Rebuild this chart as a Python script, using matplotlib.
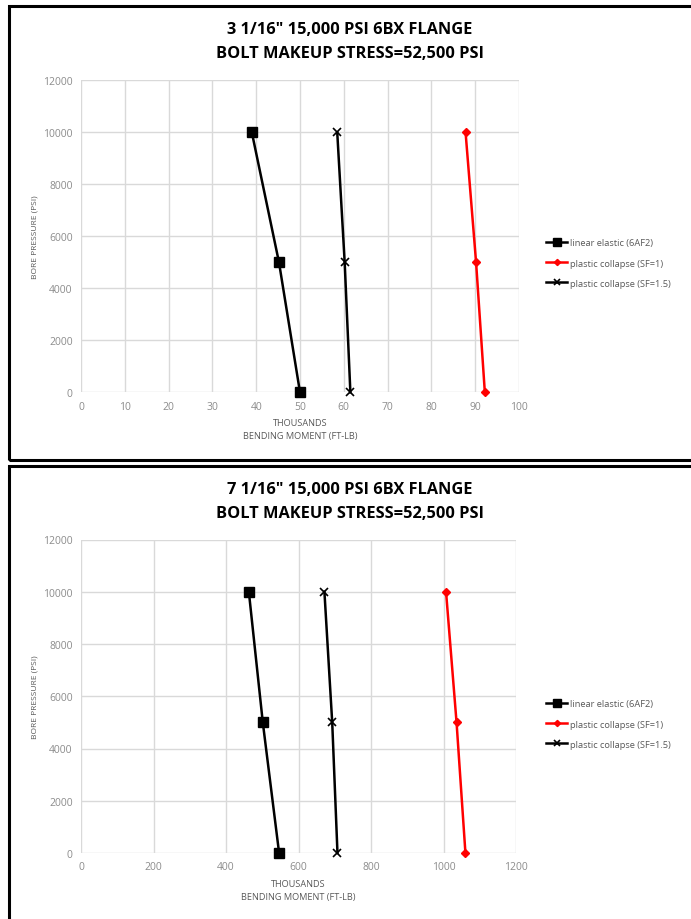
import matplotlib
matplotlib.use("Agg")
import matplotlib.pyplot as plt
from matplotlib.patches import Rectangle

# Bore pressure levels (psi)
pressure = [10000, 5000, 0]

# 3 1/16" flange: bending moment capacity (thousands ft-lb)
small_linear_elastic = [39.0, 45.2, 50.0]
small_plastic_sf1 = [87.8, 90.2, 92.2]
small_plastic_sf15 = [58.5, 60.2, 61.5]

# 7 1/16" flange: bending moment capacity (thousands ft-lb)
large_linear_elastic = [463, 501.5, 546.5]
large_plastic_sf1 = [1007, 1036, 1060.5]
large_plastic_sf15 = [671.5, 693, 707.5]

series_labels = ["linear elastic (6AF2)", "plastic collapse (SF=1)",
                 "plastic collapse (SF=1.5)"]
titles = ['3 1/16" 15,000 PSI 6BX FLANGE\nBOLT MAKEUP STRESS=52,500 PSI',
          '7 1/16" 15,000 PSI 6BX FLANGE\nBOLT MAKEUP STRESS=52,500 PSI']
y_ticks = [0, 2000, 4000, 6000, 8000, 10000, 12000]
x_ticks_small = [0, 10, 20, 30, 40, 50, 60, 70, 80, 90, 100]
x_ticks_large = [0, 200, 400, 600, 800, 1000, 1200]

W, H = 691, 920
fig = plt.figure(figsize=(W / 100, H / 100), dpi=100)
fig.patch.set_facecolor("white")

TICK_C = "#8c8c8c"
LABEL_C = "#595959"
GRID_C = "#d9d9d9"
FONT = ["Open Sans", "DejaVu Sans"]


def fx(px):
    return px / W


def fy(py):
    return 1 - py / H


def panel(box_top, box_bottom, ax_box, title_y, xlim, xticks, data, legend_y,
          xlabel_y):
    # panel frame
    fig.patches.append(Rectangle((fx(8.5), fy(box_bottom)), fx(700), fy(box_top) - fy(box_bottom),
                                 transform=fig.transFigure, fill=False,
                                 edgecolor="black", linewidth=2.2, zorder=0))
    fig.text(fx(350), fy(title_y), titles[data[3]], ha="center", va="center",
             fontsize=11.8, fontweight="bold", family=FONT, linespacing=1.7)

    l, t, r, b = ax_box
    ax = fig.add_axes([fx(l), fy(b), fx(r - l), fy(t) - fy(b)])
    le, s1, s15 = data[0], data[1], data[2]
    h1, = ax.plot(le, pressure, color="black", lw=1.8, marker="s", ms=7,
                  clip_on=False, zorder=3)
    h2, = ax.plot(s1, pressure, color="#ff0000", lw=1.8, marker="D", ms=4.2,
                  clip_on=False, zorder=3)
    h3, = ax.plot(s15, pressure, color="black", lw=1.8, marker="x", ms=5.5,
                  mew=1.2, clip_on=False, zorder=3)
    ax.set_xlim(*xlim)
    ax.set_ylim(0, 12000)
    ax.set_xticks(xticks)
    ax.set_yticks(y_ticks)
    ax.grid(True, color=GRID_C, lw=1.0)
    ax.set_axisbelow(True)
    for sp in ax.spines.values():
        sp.set_visible(False)
    ax.tick_params(length=0, labelsize=7.5, labelcolor=TICK_C, pad=6)
    for lab in ax.get_xticklabels() + ax.get_yticklabels():
        lab.set_family(FONT)
    ax.set_ylabel("BORE PRESSURE (PSI)", fontsize=6, color=LABEL_C,
                  family=FONT, labelpad=3)
    fig.text(fx((l + r) / 2), fy(xlabel_y), "THOUSANDS", ha="center",
             va="center", fontsize=6.6, color=LABEL_C, family=FONT)
    fig.text(fx((l + r) / 2), fy(xlabel_y + 13), "BENDING MOMENT (FT-LB)",
             ha="center", va="center", fontsize=6.6, color=LABEL_C, family=FONT)

    leg = fig.legend([h1, h2, h3], series_labels, loc="upper left",
                     bbox_to_anchor=(fx(538), fy(legend_y)), frameon=False,
                     handlelength=2.2, handletextpad=0.3,
                     labelspacing=1.2, labelcolor=LABEL_C,
                     prop={"family": FONT, "size": 6.7})
    for lh in leg.legend_handles:
        lh.set_markersize(lh.get_markersize() * 0.75)
    return ax


panel(7, 461, (81, 81.3, 519, 393.3), 42, (0, 100), x_ticks_small,
      (small_linear_elastic, small_plastic_sf1, small_plastic_sf15, 0), 231, 424)
panel(467, 930, (81, 540.5, 516, 854), 502, (0, 1200), x_ticks_large,
      (large_linear_elastic, large_plastic_sf1, large_plastic_sf15, 1), 692, 885)

fig.savefig("out.png", dpi=100, facecolor="white")
